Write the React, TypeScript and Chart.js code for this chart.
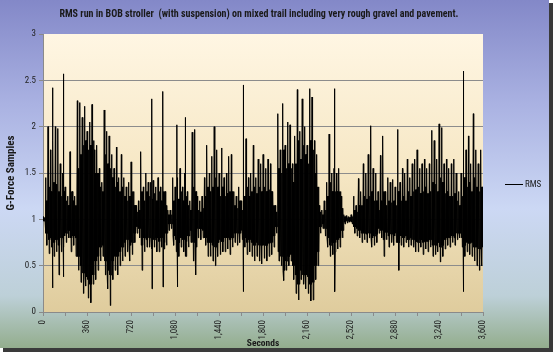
import React, { useEffect, useRef } from 'react';
import { Chart, registerables } from 'chart.js';

Chart.register(...registerables);

const TITLE = 'RMS run in BOB stroller  (with suspension) on mixed trail including very rough gravel and pavement.';
const SERIES_NAME = 'RMS';
const X_TITLE = 'Seconds';
const Y_TITLE = 'G-Force Samples';

// Each entry covers 20 seconds: the highest and lowest sample read in that window.
const SEGMENT_SECONDS = 20;
const segmentPeak = [
  1.03, 1.45, 2.0, 1.75, 1.85, 2.0, 1.98, 1.6, 1.5, 1.35,
  1.25, 1.73, 1.3, 1.25, 2.28, 2.26, 2.1, 2.22, 1.95, 2.05,
  2.24, 1.75, 1.8, 1.55, 1.4, 2.18, 1.95, 1.9, 1.7, 1.55,
  1.78, 1.45, 1.7, 1.45, 1.35, 1.4, 1.62, 1.3, 1.15, 1.2,
  1.73, 1.35, 1.5, 1.4, 1.4, 1.42, 1.35, 1.45, 1.35, 1.73,
  1.3, 1.1, 1.1, 1.45, 1.35, 1.45, 1.55, 1.35, 1.5, 1.3,
  1.2, 1.94, 1.97, 1.25, 1.2, 1.25, 1.45, 1.8, 1.5, 1.68,
  2.0, 1.75, 1.5, 1.77, 1.45, 1.5, 1.68, 1.7, 1.3, 1.25,
  1.35, 1.2, 1.55, 1.87, 1.45, 1.5, 1.8, 1.45, 1.65, 1.6,
  1.7, 1.55, 1.65, 1.6, 1.3, 1.15, 2.14, 1.75, 2.25, 1.8,
  2.05, 2.02, 1.6, 1.9, 2.4, 1.95, 2.3, 2.0, 1.8, 2.41,
  2.32, 1.85, 1.7, 1.15, 1.1, 1.2, 1.4, 1.92, 1.5, 1.55,
  1.5, 1.55, 1.25, 1.05, 1.04, 1.03, 1.05, 1.25, 1.15, 1.44,
  1.3, 1.6, 1.5, 1.7, 2.01, 1.55, 1.5, 1.3, 1.69, 1.9,
  1.3, 1.45, 1.4, 1.43, 1.35, 1.97, 1.4, 1.55, 1.5, 1.65,
  1.45, 1.6, 1.65, 1.75, 1.55, 1.6, 1.65, 1.55, 1.6, 1.96,
  1.85, 1.65, 2.03, 1.99, 1.6, 1.65, 1.55, 1.6, 1.65, 1.5,
  1.3, 1.5, 2.07, 1.75, 1.9, 1.6, 2.14, 1.75, 1.6, 1.75,
];
const segmentTrough = [
  0.98, 0.72, 0.63, 0.7, 0.6, 0.65, 0.4, 0.65, 0.7, 0.75,
  0.8, 0.65, 0.72, 0.6, 0.45, 0.32, 0.2, 0.28, 0.15, 0.1,
  0.3, 0.35, 0.45, 0.55, 0.6, 0.4, 0.25, 0.07, 0.35, 0.45,
  0.4, 0.5, 0.55, 0.6, 0.65, 0.55, 0.62, 0.75, 0.85, 0.8,
  0.45, 0.65, 0.7, 0.7, 0.68, 0.7, 0.65, 0.65, 0.7, 0.68,
  0.72, 0.88, 0.9, 0.72, 0.65, 0.6, 0.7, 0.65, 0.6, 0.7,
  0.75, 0.55, 0.4, 0.8, 0.78, 0.8, 0.72, 0.6, 0.6, 0.55,
  0.5, 0.6, 0.62, 0.65, 0.65, 0.68, 0.62, 0.7, 0.75, 0.72,
  0.75, 0.78, 0.7, 0.62, 0.65, 0.6, 0.55, 0.6, 0.55, 0.52,
  0.58, 0.55, 0.6, 0.62, 0.7, 0.85, 0.55, 0.5, 0.34, 0.45,
  0.5, 0.55, 0.35, 0.2, 0.13, 0.35, 0.3, 0.25, 0.2, 0.12,
  0.13, 0.35, 0.5, 0.85, 0.9, 0.82, 0.7, 0.6, 0.62, 0.65,
  0.68, 0.7, 0.8, 0.95, 0.96, 0.97, 0.95, 0.85, 0.82, 0.8,
  0.75, 0.78, 0.75, 0.8, 0.7, 0.72, 0.75, 0.85, 0.8, 0.6,
  0.78, 0.7, 0.75, 0.72, 0.75, 0.45, 0.72, 0.7, 0.75, 0.7,
  0.72, 0.7, 0.65, 0.65, 0.7, 0.62, 0.68, 0.65, 0.7, 0.6,
  0.62, 0.65, 0.54, 0.6, 0.68, 0.72, 0.7, 0.75, 0.72, 0.78,
  0.8, 0.7, 0.6, 0.65, 0.62, 0.6, 0.55, 0.5, 0.45, 0.5,
];

// Same 20-second windows: the band where most samples fall (the solid core).
const coreHigh = [
  1.02, 1.2, 1.35, 1.3, 1.4, 1.38, 1.3, 1.25, 1.3, 1.2,
  1.15, 1.3, 1.2, 1.15, 1.55, 1.7, 1.8, 1.85, 1.75, 1.8,
  1.85, 1.5, 1.5, 1.35, 1.3, 1.7, 1.6, 1.55, 1.45, 1.35,
  1.4, 1.3, 1.35, 1.25, 1.2, 1.25, 1.3, 1.15, 1.08, 1.1,
  1.3, 1.2, 1.3, 1.25, 1.22, 1.28, 1.2, 1.3, 1.2, 1.3,
  1.15, 1.05, 1.05, 1.2, 1.25, 1.22, 1.3, 1.2, 1.25, 1.15,
  1.1, 1.35, 1.3, 1.1, 1.08, 1.12, 1.25, 1.35, 1.3, 1.35,
  1.45, 1.35, 1.25, 1.35, 1.25, 1.28, 1.3, 1.3, 1.15, 1.12,
  1.2, 1.1, 1.25, 1.35, 1.25, 1.3, 1.35, 1.28, 1.35, 1.3,
  1.35, 1.3, 1.32, 1.3, 1.15, 1.08, 1.55, 1.5, 1.75, 1.55,
  1.6, 1.55, 1.4, 1.6, 1.85, 1.65, 1.8, 1.7, 1.6, 1.85,
  1.75, 1.5, 1.35, 1.08, 1.05, 1.1, 1.25, 1.4, 1.3, 1.3,
  1.3, 1.3, 1.12, 1.03, 1.02, 1.02, 1.03, 1.1, 1.08, 1.15,
  1.15, 1.25, 1.22, 1.25, 1.3, 1.2, 1.2, 1.1, 1.2, 1.3,
  1.15, 1.2, 1.18, 1.2, 1.15, 1.3, 1.2, 1.25, 1.2, 1.3,
  1.25, 1.3, 1.32, 1.35, 1.28, 1.3, 1.35, 1.28, 1.3, 1.4,
  1.38, 1.3, 1.45, 1.4, 1.28, 1.3, 1.25, 1.25, 1.28, 1.2,
  1.15, 1.25, 1.45, 1.35, 1.4, 1.3, 1.45, 1.35, 1.3, 1.35,
];
const coreLow = [
  0.98, 0.85, 0.78, 0.8, 0.75, 0.78, 0.72, 0.8, 0.82, 0.85,
  0.88, 0.8, 0.82, 0.8, 0.6, 0.5, 0.42, 0.38, 0.35, 0.3,
  0.4, 0.55, 0.6, 0.7, 0.72, 0.55, 0.45, 0.4, 0.55, 0.6,
  0.6, 0.65, 0.7, 0.75, 0.78, 0.72, 0.75, 0.85, 0.92, 0.9,
  0.72, 0.8, 0.78, 0.8, 0.78, 0.78, 0.8, 0.76, 0.8, 0.75,
  0.85, 0.95, 0.95, 0.82, 0.78, 0.75, 0.8, 0.78, 0.76, 0.82,
  0.88, 0.75, 0.7, 0.9, 0.9, 0.88, 0.8, 0.75, 0.75, 0.72,
  0.7, 0.75, 0.78, 0.76, 0.8, 0.8, 0.78, 0.8, 0.85, 0.85,
  0.85, 0.88, 0.8, 0.75, 0.78, 0.75, 0.72, 0.75, 0.72, 0.72,
  0.72, 0.72, 0.74, 0.75, 0.82, 0.92, 0.65, 0.6, 0.45, 0.55,
  0.6, 0.62, 0.5, 0.4, 0.3, 0.45, 0.4, 0.4, 0.38, 0.3,
  0.32, 0.5, 0.65, 0.92, 0.95, 0.9, 0.8, 0.72, 0.75, 0.75,
  0.78, 0.8, 0.88, 0.97, 0.98, 0.98, 0.97, 0.92, 0.9, 0.88,
  0.85, 0.85, 0.84, 0.85, 0.8, 0.82, 0.84, 0.9, 0.88, 0.78,
  0.86, 0.82, 0.84, 0.82, 0.85, 0.75, 0.82, 0.8, 0.82, 0.78,
  0.8, 0.78, 0.76, 0.75, 0.78, 0.75, 0.76, 0.76, 0.78, 0.72,
  0.72, 0.75, 0.7, 0.72, 0.78, 0.8, 0.8, 0.82, 0.8, 0.85,
  0.85, 0.8, 0.72, 0.75, 0.74, 0.75, 0.7, 0.7, 0.68, 0.7,
];

// Isolated tall spikes
const spikeSeconds = [79, 167, 891, 981, 1096, 1164, 1637, 2386, 3438];
const spikePeak = [2.42, 2.57, 2.3, 2.38, 2.02, 2.1, 2.45, 2.41, 2.6];
const spikeTrough = [0.26, 0.38, 0.25, 0.27, 0.27, 0.6, 0.22, 0.22, 0.22];

const X_MIN = 0;
const X_MAX = 3600;
const X_LABEL_STEP = 360;
const X_MINOR_STEP = 180;
const Y_MIN = 0;
const Y_MAX = 3;
const Y_STEP = 0.5;

const FONT = '"Liberation Sans Narrow", "Roboto Condensed", "Liberation Sans", Arial, sans-serif';

function buildPoints() {
  const pts: { x: number; y: number }[] = [];
  segmentPeak.forEach((p, k) => {
    const t = k * SEGMENT_SECONDS;
    const hi = Math.min(coreHigh[k], p);
    const lo = Math.max(coreLow[k], segmentTrough[k]);
    pts.push({ x: t + 1, y: p });
    pts.push({ x: t + 4, y: lo });
    pts.push({ x: t + 7, y: hi });
    pts.push({ x: t + 11, y: segmentTrough[k] });
    pts.push({ x: t + 14, y: hi });
    pts.push({ x: t + 17, y: lo });
  });
  spikeSeconds.forEach((s, i) => {
    pts.push({ x: s + 0.2, y: spikePeak[i] });
    pts.push({ x: s + 1.2, y: spikeTrough[i] });
  });
  pts.sort((a, b) => a.x - b.x);
  return [{ x: 0, y: 1 }, ...pts];
}

function fmt(v: number) {
  return String(v).replace(/\B(?=(\d{3})+(?!\d))/g, ',');
}

const W = 555;
const H = 353;
const FRAME_W = 549;
const FRAME_H = 348;

const decorPlugin = {
  id: 'decor',
  beforeDraw(chart: any) {
    const ctx = chart.ctx as CanvasRenderingContext2D;
    ctx.save();
    ctx.fillStyle = '#ffffff';
    ctx.fillRect(0, 0, W, H);
    ctx.fillStyle = '#3a3a3a';
    ctx.fillRect(3, 3, FRAME_W + 1, FRAME_H + 1);
    const g = ctx.createLinearGradient(0, 0, 0, FRAME_H);
    g.addColorStop(0, '#8388c8');
    g.addColorStop(0.3, '#aab2e2');
    g.addColorStop(0.6, '#ccd8f4');
    g.addColorStop(0.85, '#bdd0d8');
    g.addColorStop(1, '#93ad8d');
    ctx.fillStyle = g;
    ctx.fillRect(0, 0, FRAME_W, FRAME_H);
    const a = chart.chartArea;
    const pg = ctx.createLinearGradient(0, a.top, 0, a.bottom);
    pg.addColorStop(0, '#fff6e3');
    pg.addColorStop(0.5, '#f6e7c4');
    pg.addColorStop(1, '#dfcc9d');
    ctx.fillStyle = pg;
    ctx.fillRect(a.left, a.top, a.right - a.left, a.bottom - a.top);
    ctx.restore();
  },
  afterDraw(chart: any) {
    const ctx = chart.ctx as CanvasRenderingContext2D;
    ctx.save();
    ctx.fillStyle = '#1a1a1a';
    ctx.font = `bold 10px ${FONT}`;
    ctx.textAlign = 'center';
    ctx.textBaseline = 'middle';
    ctx.fillText(TITLE, 259, 14.5);
    // legend
    ctx.strokeStyle = '#000000';
    ctx.lineWidth = 1;
    ctx.beginPath();
    ctx.moveTo(505, 184.5);
    ctx.lineTo(523, 184.5);
    ctx.stroke();
    ctx.font = `9px ${FONT}`;
    ctx.textAlign = 'left';
    ctx.fillStyle = '#1a1a1a';
    ctx.fillText(SERIES_NAME, 525, 184.5);
    ctx.restore();
  },
};

export default function App() {
  const ref = useRef<HTMLCanvasElement>(null);
  useEffect(() => {
    if (!ref.current) return;
    const chart = new Chart(ref.current, {
      type: 'line',
      data: {
        datasets: [
          {
            label: SERIES_NAME,
            data: buildPoints(),
            borderColor: '#000000',
            borderWidth: 1,
            pointRadius: 0,
            tension: 0,
            fill: false,
          },
        ],
      },
      options: {
        animation: false,
        responsive: false,
        devicePixelRatio: 1,
        parsing: false as any,
        layout: { padding: { top: 34, right: W - 483, bottom: 0, left: 0 } },
        plugins: {
          legend: { display: false },
          tooltip: { enabled: false },
          title: { display: false },
        },
        scales: {
          x: {
            type: 'linear',
            min: X_MIN,
            max: X_MAX,
            afterFit(scale: any) {
              scale.height = H - 312;
            },
            ticks: {
              stepSize: X_MINOR_STEP,
              autoSkip: false,
              maxRotation: 90,
              minRotation: 90,
              padding: 4,
              color: '#222222',
              font: { family: FONT, size: 9 },
              callback: (v: any) => (Number(v) % X_LABEL_STEP === 0 ? fmt(Number(v)) : ''),
            },
            grid: {
              drawOnChartArea: false,
              drawTicks: true,
              tickLength: 4,
              color: '#8a8a8a',
            },
            border: { color: '#8a8a8a' },
            title: {
              display: true,
              text: X_TITLE,
              color: '#1a1a1a',
              font: { family: FONT, size: 9.5, weight: 'bold' },
              padding: { top: 0, bottom: 4 },
            },
          },
          y: {
            type: 'linear',
            min: Y_MIN,
            max: Y_MAX,
            afterFit(scale: any) {
              scale.width = 43;
            },
            ticks: {
              stepSize: Y_STEP,
              padding: 3,
              color: '#222222',
              font: { family: FONT, size: 9 },
              callback: (v: any) => String(Number(v)),
            },
            grid: {
              color: (c: any) => (c.tick && c.tick.value === Y_MAX ? 'rgba(0,0,0,0)' : '#8c8c8c'),
              tickLength: 4,
              tickColor: '#8a8a8a',
            },
            border: { color: '#8a8a8a' },
            title: {
              display: true,
              text: Y_TITLE,
              color: '#1a1a1a',
              font: { family: FONT, size: 11, weight: 'bold' },
              padding: { top: 5, bottom: 0 },
            },
          },
        },
      },
      plugins: [decorPlugin],
    });
    return () => chart.destroy();
  }, []);
  return (
    <div style={{ position: 'absolute', left: 0, top: 0, width: W, height: H }}>
      <canvas ref={ref} width={W} height={H} style={{ display: 'block', width: W, height: H }} />
    </div>
  );
}
